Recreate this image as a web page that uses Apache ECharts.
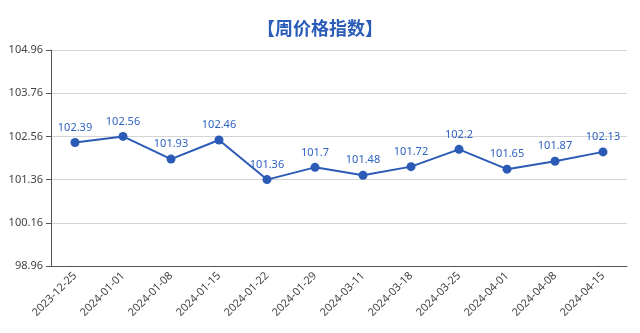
<!DOCTYPE html>
<html>
<head>
<meta charset="utf-8">
<script src="https://cdn.jsdelivr.net/npm/echarts@6/dist/echarts.min.js"></script>
<style>
  html, body { margin: 0; padding: 0; background: #fff; }
  #chart { width: 640px; height: 333px; }
</style>
</head>
<body>
<div id="chart"></div>
<script>
// Weekly price index
const weeks = ['2023-12-25', '2024-01-01', '2024-01-08', '2024-01-15', '2024-01-22', '2024-01-29',
  '2024-03-11', '2024-03-18', '2024-03-25', '2024-04-01', '2024-04-08', '2024-04-15'];
const indexValues = [102.39, 102.56, 101.93, 102.46, 101.36, 101.7, 101.48, 101.72, 102.2, 101.65, 101.87, 102.13];
const yMin = 98.96;
const yMax = 104.96;
const yStep = 1.2;

const blue = '#2b5bb6';
const chart = echarts.init(document.getElementById('chart'));
chart.setOption({
  animation: false,
  title: {
    text: '【周价格指数】',
    left: 'center',
    top: 14,
    textStyle: { color: '#2a5cb8', fontSize: 18, fontWeight: 'bold', fontFamily: 'Noto Sans CJK SC' }
  },
  grid: { left: 51, right: 13, top: 50, bottom: 67 },
  xAxis: {
    type: 'category',
    data: weeks,
    boundaryGap: true,
    axisLine: { lineStyle: { color: '#555' } },
    axisTick: { alignWithLabel: false, lineStyle: { color: '#555' } },
    axisLabel: { rotate: 45, color: '#444', fontSize: 11, interval: 0, margin: 8, fontFamily: 'Noto Sans' }
  },
  yAxis: {
    type: 'value',
    min: yMin,
    max: yMax,
    interval: yStep,
    axisLine: { show: true, lineStyle: { color: '#555' } },
    axisTick: { show: true, lineStyle: { color: '#555' } },
    splitLine: { lineStyle: { color: '#d4d4d4' } },
    axisLabel: { color: '#444', fontSize: 11, fontFamily: 'Noto Sans', formatter: v => v.toFixed(2) }
  },
  series: [{
    type: 'line',
    data: indexValues,
    symbol: 'circle',
    symbolSize: 9,
    lineStyle: { color: blue, width: 2 },
    itemStyle: { color: blue },
    label: { show: true, position: 'top', color: '#2f63c0', fontSize: 11, fontFamily: 'Noto Sans' }
  }]
});
</script>
</body>
</html>
